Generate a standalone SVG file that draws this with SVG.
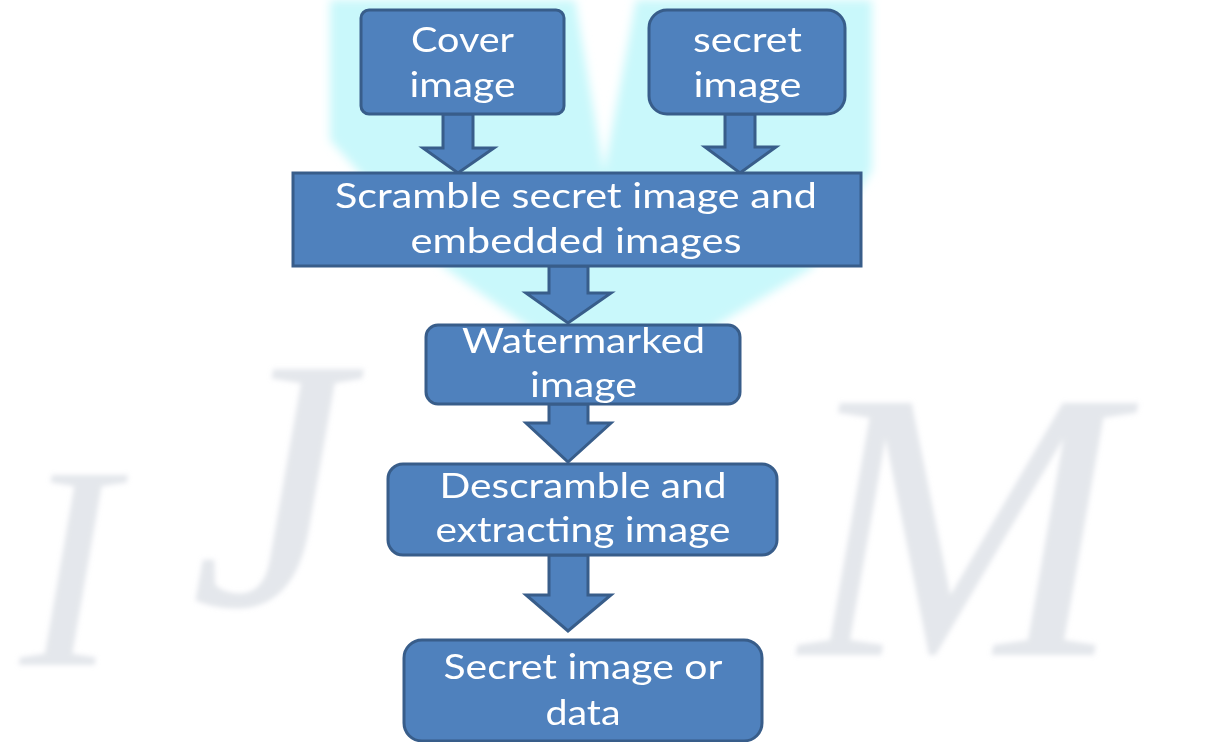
<svg xmlns="http://www.w3.org/2000/svg" width="1222" height="742" viewBox="0 0 1222 742">
  <style>
    .box { fill: #4F81BD; stroke: #385D8A; stroke-width: 3; }
    .arrow { fill: #4F81BD; stroke: #385D8A; stroke-width: 3; stroke-linejoin: miter; }
    .lbl { fill: #FFFFFF; font-family: Lato, "Open Sans", "Liberation Sans", sans-serif; font-size: 34px; text-anchor: middle; }
    .wm { fill: #C3C9D6; font-family: "Liberation Serif", serif; font-style: italic; opacity: 0.45; }
  </style>
  <defs>
    <filter id="soft" x="-10%" y="-10%" width="120%" height="120%">
      <feGaussianBlur stdDeviation="5"/>
    </filter>
    <filter id="wmblur" x="-10%" y="-10%" width="120%" height="120%">
      <feGaussianBlur stdDeviation="2.5"/>
    </filter>
  </defs>
  <rect x="0" y="0" width="1222" height="742" fill="#FFFFFF"/>

  <!-- background watermark -->
  <g id="watermark">
    <path d="M330,0 L575,0 L604,172 L636,0 L872,0 L872,170 L812,268 L700,335 L540,335 L445,268 L330,140 Z" fill="#C9F8FB" filter="url(#soft)"/>
    <g filter="url(#wmblur)">
      <text class="wm" x="20" y="665" font-size="290">I</text>
      <text class="wm" x="190" y="605" font-size="360">J</text>
      <text class="wm" x="800" y="655" font-size="385">M</text>
    </g>
  </g>

  <!-- connectors -->
  <g id="connectors">
    <path class="arrow" d="M443,114 L473,114 L473,148 L494,148 L458,173 L423,148 L443,148 Z"/>
    <path class="arrow" d="M725,114 L755,114 L755,147 L776,147 L740,173 L705,147 L725,147 Z"/>
    <path class="arrow" d="M549,266 L588,266 L588,293 L611,293 L568,323 L526,293 L549,293 Z"/>
    <path class="arrow" d="M549,404 L588,404 L588,423 L611,423 L568,462 L526,423 L549,423 Z"/>
    <path class="arrow" d="M549,555 L588,555 L588,595 L611,595 L568,631 L526,595 L549,595 Z"/>
  </g>

  <g id="cover">
    <rect class="box" x="361" y="10" width="203" height="104" rx="8"/>
    <text class="lbl" x="462.5" y="52" textLength="103" lengthAdjust="spacingAndGlyphs">Cover</text>
    <text class="lbl" x="462.5" y="97" textLength="106" lengthAdjust="spacingAndGlyphs">image</text>
  </g>

  <g id="secret">
    <rect class="box" x="649" y="10" width="196" height="104" rx="18"/>
    <text class="lbl" x="747.5" y="52" textLength="109" lengthAdjust="spacingAndGlyphs">secret</text>
    <text class="lbl" x="747.5" y="97" textLength="108" lengthAdjust="spacingAndGlyphs">image</text>
  </g>

  <g id="scramble">
    <rect class="box" x="293" y="173" width="568" height="93"/>
    <text class="lbl" x="576" y="208" textLength="482" lengthAdjust="spacingAndGlyphs">Scramble secret image and</text>
    <text class="lbl" x="576" y="253" textLength="331" lengthAdjust="spacingAndGlyphs">embedded images</text>
  </g>

  <g id="watermarked">
    <rect class="box" x="426" y="325" width="314" height="79" rx="12"/>
    <text class="lbl" x="583.5" y="353" textLength="243" lengthAdjust="spacingAndGlyphs">Watermarked</text>
    <text class="lbl" x="583.5" y="397" textLength="107" lengthAdjust="spacingAndGlyphs">image</text>
  </g>

  <g id="descramble">
    <rect class="box" x="388" y="464" width="389" height="91" rx="15"/>
    <text class="lbl" x="583" y="498" textLength="287" lengthAdjust="spacingAndGlyphs">Descramble and</text>
    <text class="lbl" x="583" y="542" textLength="295" lengthAdjust="spacingAndGlyphs">extracting image</text>
  </g>

  <g id="result">
    <rect class="box" x="404" y="640" width="358" height="101" rx="18"/>
    <text class="lbl" x="583" y="679" textLength="279" lengthAdjust="spacingAndGlyphs">Secret image or</text>
    <text class="lbl" x="583" y="725" textLength="75" lengthAdjust="spacingAndGlyphs">data</text>
  </g>
</svg>
